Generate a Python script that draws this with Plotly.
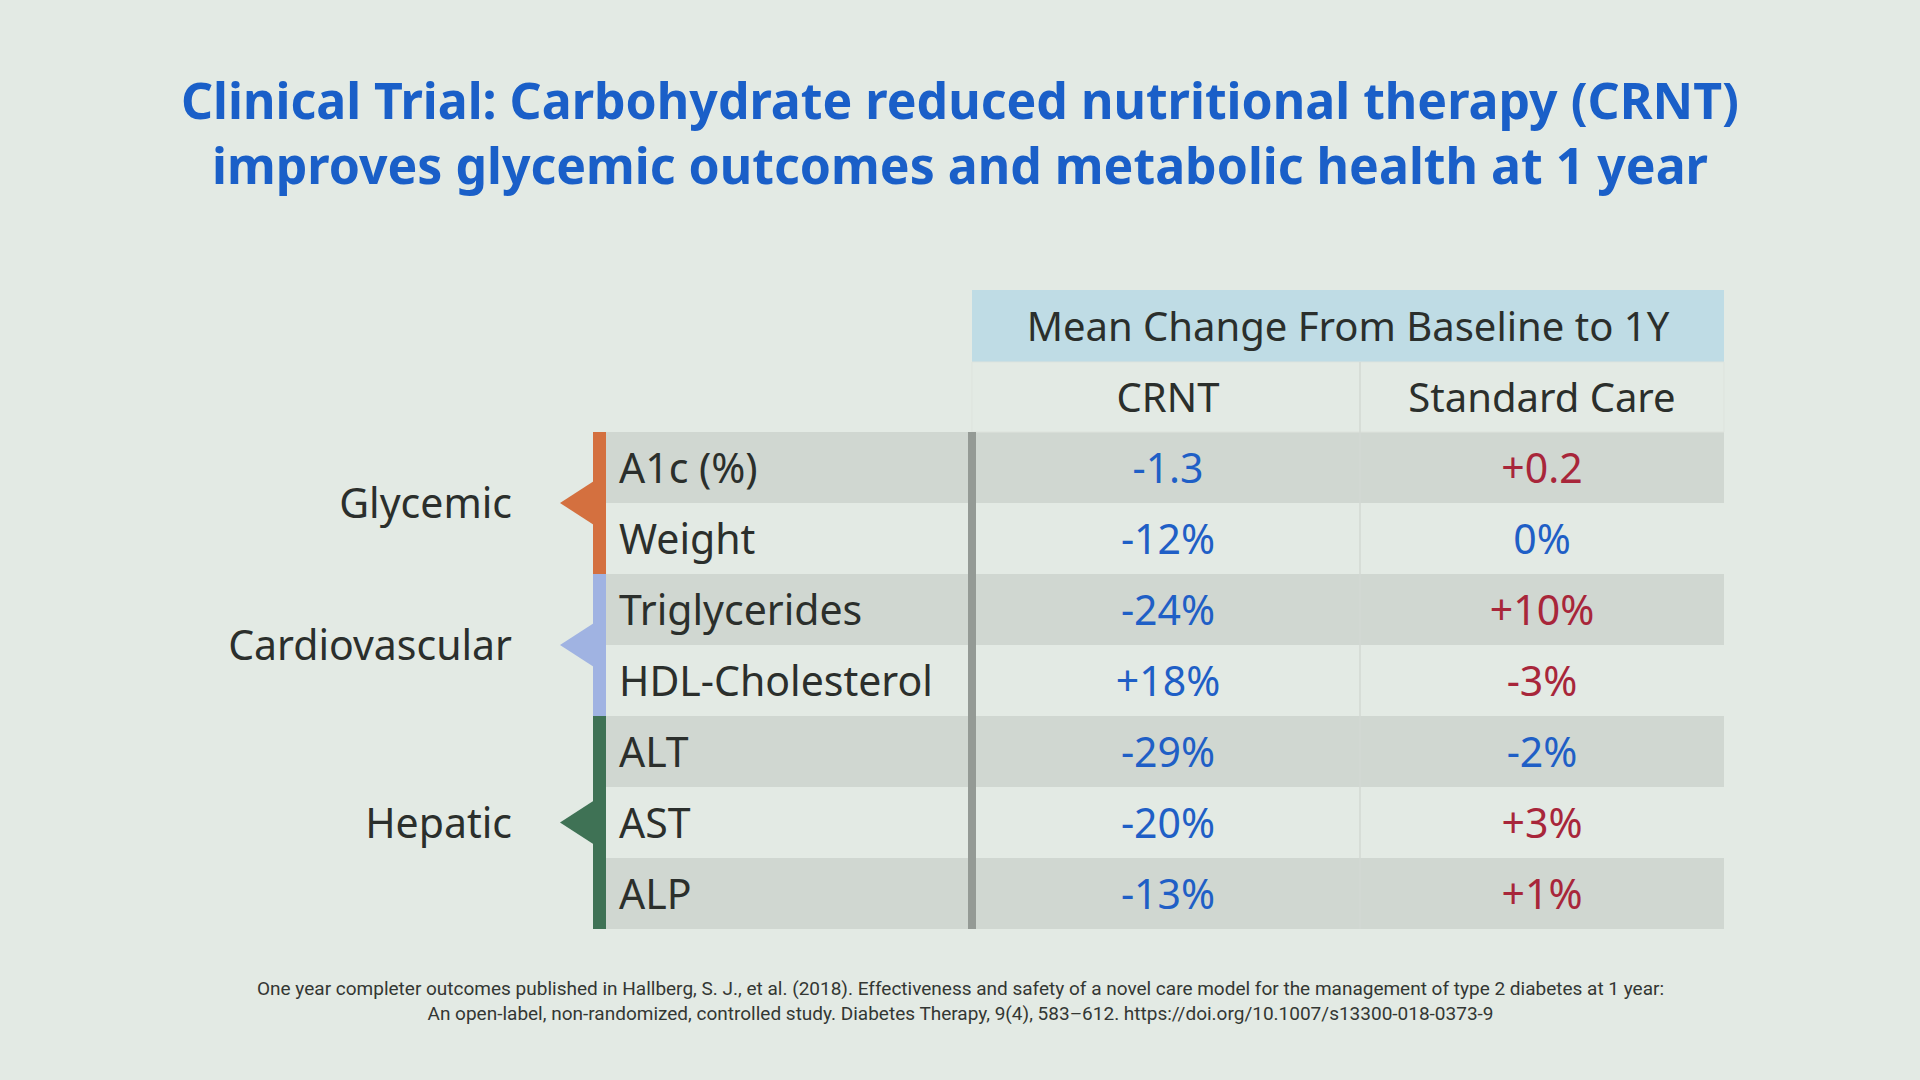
import plotly.graph_objects as go

# table content
groups = ["Glycemic", "Cardiovascular", "Hepatic"]
group_sizes = [2, 2, 3]
group_colors = ["#d4703f", "#a0b3e2", "#3f7255"]
measures = ["A1c (%)", "Weight", "Triglycerides", "HDL-Cholesterol", "ALT", "AST", "ALP"]
crnt = ["-1.3", "-12%", "-24%", "+18%", "-29%", "-20%", "-13%"]
std_care = ["+0.2", "0%", "+10%", "-3%", "-2%", "+3%", "+1%"]
# True = favourable change (blue), False = unfavourable (red)
crnt_good = [True, True, True, True, True, True, True]
std_good = [False, True, False, False, True, False, False]
col_names = ["CRNT", "Standard Care"]
header = "Mean Change From Baseline to 1Y"

title = ("Clinical Trial: Carbohydrate reduced nutritional therapy (CRNT)<br>"
         "improves glycemic outcomes and metabolic health at 1 year")
note = ("One year completer outcomes published in Hallberg, S. J., et al. (2018). Effectiveness and safety of a novel care model "
        "for the management of type 2 diabetes at 1 year:<br>"
        "An open-label, non-randomized, controlled study. Diabetes Therapy, 9(4), 583–612. https://doi.org/10.1007/s13300-018-0373-9")

BG = "#e3eae4"
STRIPE = "#d0d7d1"
TXT = "#2b2f2c"
BLUE = "#1f5fc6"
RED = "#a8263a"
FONT = "Noto Sans"

# layout geometry (pixel-like axis units)
top = 432
rh = 71
hdr_top, hdr_bot = 290, 362
bar_x0, bar_x1 = 593, 606
sep_x0, sep_x1 = 968, 976
col_edges = [976, 1360, 1724]
label_x = 619
group_x = 512
dy = 5  # text baseline nudge

def row_y(i):
    return top + i * rh

fig = go.Figure()
shapes = []

# row stripes
for i in range(len(measures)):
    if i % 2 == 0:
        shapes.append(dict(type="rect", xref="x", yref="y", x0=bar_x1, x1=col_edges[-1],
                           y0=row_y(i), y1=row_y(i + 1), fillcolor=STRIPE, line_width=0, layer="below"))

# header box
shapes.append(dict(type="rect", xref="x", yref="y", x0=972, x1=col_edges[-1], y0=hdr_top, y1=hdr_bot,
                   fillcolor="#bfdce5", line_width=0, layer="below"))
# sub header border
shapes.append(dict(type="rect", xref="x", yref="y", x0=972, x1=col_edges[-1], y0=hdr_bot, y1=top,
                   fillcolor="rgba(0,0,0,0)", line=dict(color="#dde3dd", width=1), layer="below"))
# column divider
shapes.append(dict(type="line", xref="x", yref="y", x0=col_edges[1], x1=col_edges[1],
                   y0=hdr_bot, y1=row_y(len(measures)), line=dict(color="#d3d9d3", width=1.5)))
# label / value separator
shapes.append(dict(type="rect", xref="x", yref="y", x0=sep_x0, x1=sep_x1, y0=top, y1=row_y(len(measures)),
                   fillcolor="#949a95", line_width=0))

# group bars and pointers
start = 0
for g, n, c in zip(groups, group_sizes, group_colors):
    y0, y1 = row_y(start), row_y(start + n)
    yc = (y0 + y1) / 2
    shapes.append(dict(type="rect", xref="x", yref="y", x0=bar_x0, x1=bar_x1, y0=y0, y1=y1,
                       fillcolor=c, line_width=0))
    shapes.append(dict(type="path", xref="x", yref="y",
                       path=f"M {bar_x0 + 1},{yc - 22} L {bar_x0 - 33},{yc} L {bar_x0 + 1},{yc + 22} Z",
                       fillcolor=c, line_width=0))
    fig.add_trace(go.Scatter(x=[group_x], y=[yc + dy], mode="text", text=[g], textposition="middle left",
                             textfont=dict(family=FONT, size=41, color=TXT), hoverinfo="skip"))
    start += n

ys = [row_y(i) + rh / 2 + dy for i in range(len(measures))]

fig.add_trace(go.Scatter(x=[label_x] * len(measures), y=ys, mode="text", text=measures,
                         textposition="middle right", textfont=dict(family=FONT, size=41, color=TXT),
                         hoverinfo="skip"))

centers = [(col_edges[k] + col_edges[k + 1]) / 2 for k in range(2)]
for cx, vals, good in zip(centers, [crnt, std_care], [crnt_good, std_good]):
    fig.add_trace(go.Scatter(x=[cx] * len(vals), y=ys, mode="text", text=vals, textposition="middle center",
                             textfont=dict(family=FONT, size=41, color=[BLUE if g else RED for g in good]),
                             hoverinfo="skip"))

# column headings
fig.add_trace(go.Scatter(x=centers, y=[(hdr_bot + top) / 2 + dy] * 2, mode="text", text=col_names,
                         textposition="middle center", textfont=dict(family=FONT, size=40, color=TXT),
                         hoverinfo="skip"))
fig.add_trace(go.Scatter(x=[(972 + col_edges[-1]) / 2], y=[(hdr_top + hdr_bot) / 2 + dy], mode="text",
                         text=[header], textposition="middle center",
                         textfont=dict(family=FONT, size=40, color=TXT), hoverinfo="skip"))

fig.add_annotation(text=title, x=0.5, y=1 - 132 / 1080, xref="paper", yref="paper", showarrow=False,
                   xanchor="center", yanchor="middle",
                   font=dict(family=FONT, size=50, color="#1a5fc8", weight="bold"))
fig.add_annotation(text=note, x=0.5, y=1 - 1001 / 1080, xref="paper", yref="paper", showarrow=False,
                   xanchor="center", yanchor="middle", align="center",
                   font=dict(family="Roboto", size=19, color="#333733"))

fig.update_layout(
    width=1920, height=1080,
    margin=dict(l=0, r=0, t=0, b=0),
    paper_bgcolor=BG, plot_bgcolor=BG,
    showlegend=False,
    shapes=shapes,
    xaxis=dict(range=[0, 1920], visible=False, fixedrange=True),
    yaxis=dict(range=[1080, 0], visible=False, fixedrange=True),
)

fig.write_html("out.html", config={"displayModeBar": False},
               post_script="document.body.style.margin='0px';")
